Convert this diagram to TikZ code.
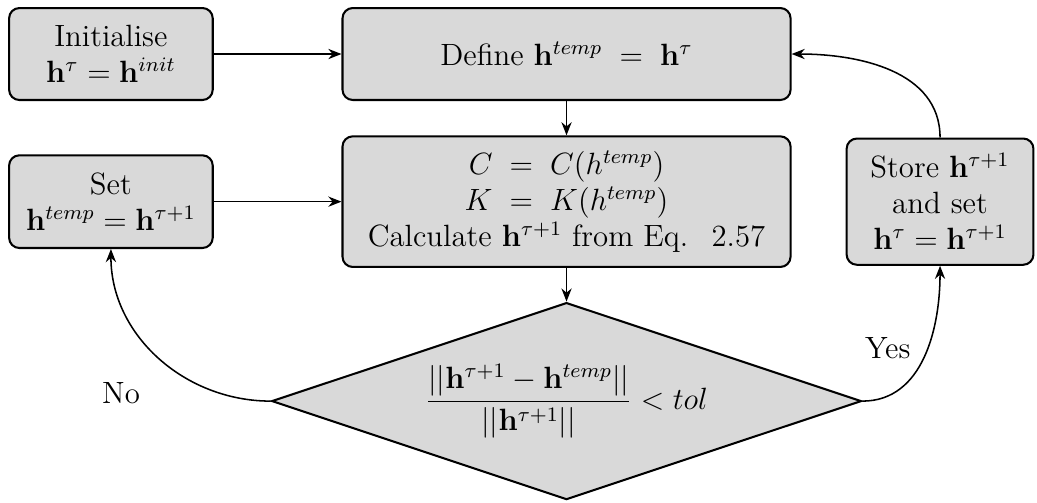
\documentclass[tikz,border=0pt]{standalone}
\usepackage{amsmath}
\usepackage{tikz}
\usetikzlibrary{arrows.meta, positioning, shapes.geometric}
\definecolor{BoxGray}{HTML}{D9D9D9}
\tikzset{
  stepbox/.style={draw=black, thick, rounded corners=4pt, fill=BoxGray, align=center, inner sep=4pt, font=\large},
  checkbox/.style={draw=black, thick, diamond, aspect=2.95, fill=BoxGray, align=center, inner sep=0pt, minimum width=8.08cm, minimum height=2.7cm, font=\large},
  arrow/.style={-{Stealth[length=1.8mm, width=1.4mm]}, semithick, draw=black}
}

\begin{document}
\begin{tikzpicture}[node distance=0.47cm]
\useasboundingbox (0,0) rectangle (14.21,-6.89);
\node[stepbox, minimum width=2.79cm, minimum height=1.26cm] (init) at (1.52,-0.74) {Initialise\\$\mathbf{h}^{\tau} = \mathbf{h}^{init}$};
\node[stepbox, right=1.75cm of init, minimum width=6.14cm, minimum height=1.26cm] (define) {Define $\mathbf{h}^{temp} \;=\; \mathbf{h}^{\tau}$};
\node[stepbox, below=0.47cm of define, minimum width=6.14cm, minimum height=1.79cm] (calc) {$C \;=\; C(h^{temp})$\\$K \;=\; K(h^{temp})$\\Calculate $\mathbf{h}^{\tau+1}$ from Eq.~ 2.57};
\node[stepbox, left=1.75cm of calc, minimum width=2.79cm, minimum height=1.27cm] (set) {Set\\$\mathbf{h}^{temp} = \mathbf{h}^{\tau+1}$};
\node[stepbox, right=0.74cm of calc, minimum width=2.56cm, minimum height=1.73cm] (store) {Store $\mathbf{h}^{\tau+1}$\\and set\\$\mathbf{h}^{\tau} = \mathbf{h}^{\tau+1}$};
\node[checkbox, below=0.46cm of calc] (check) {$\dfrac{||\mathbf{h}^{\tau+1} - \mathbf{h}^{temp}||}{||\mathbf{h}^{\tau+1}||} < tol$};

\draw[arrow] (init) -- (define);
\draw[arrow] (define) -- (calc);
\draw[arrow] (set) -- (calc);
\draw[arrow] (calc) -- (check);
\draw[arrow] (check.west) to[out=180, in=-90] node[pos=0.2, left=28pt, font=\large] {No} (set.south);
\draw[arrow] (check.east) to[out=0, in=-90] node[pos=0.55, left=3pt, font=\large] {Yes} (store.south);
\draw[arrow] (store.north) to[out=90, in=0] (define.east);
\end{tikzpicture}
\end{document}
